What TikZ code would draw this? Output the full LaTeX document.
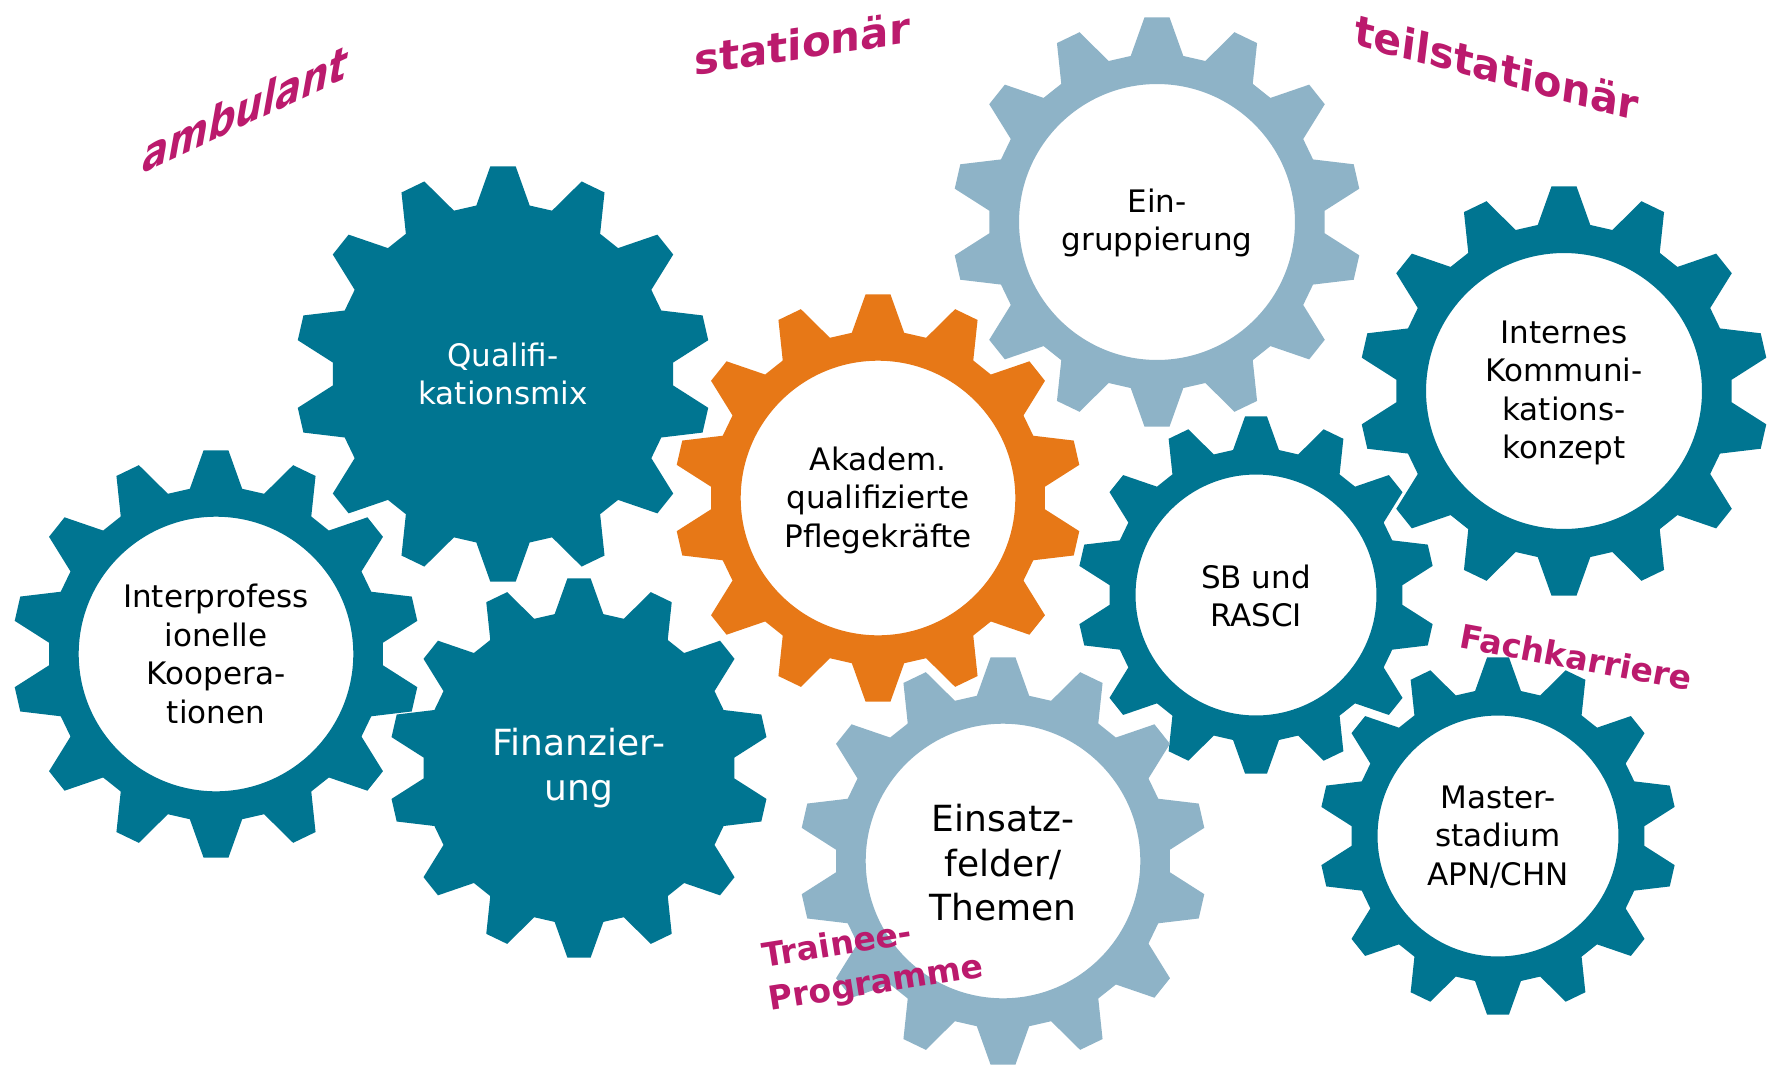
\documentclass[tikz,border=0pt]{standalone}
\usepackage{fontspec}
\setmainfont{DejaVu Sans}
\definecolor{gteal}{HTML}{007591}
\definecolor{glight}{HTML}{8EB3C7}
\definecolor{gorange}{HTML}{E77817}
\definecolor{gmag}{HTML}{BB1A6D}
\tikzset{
  gtext/.style={align=center, text=black, font=\fontsize{31}{38.5}\selectfont, inner sep=0pt},
  gwhite/.style={gtext, text=white},
  gbig/.style={align=center, font=\fontsize{36}{44.5}\selectfont, inner sep=0pt},
  glabel/.style={text=gmag, font=\bfseries\fontsize{42}{50}\selectfont, inner sep=0pt},
  gsmall/.style={text=gmag, font=\bfseries\fontsize{33}{44}\selectfont, inner sep=0pt, align=left},
}
\newcommand\ringgear[4]{%
  \fill[#4, even odd rule, shift={(#1,#2)}] (90-9:{0.82*#3})
    \foreach \i in {0,...,13}{
      -- ({90+\i*360/14-9}:{0.82*#3}) -- ({90+\i*360/14-3.5}:#3)
      -- ({90+\i*360/14+3.5}:#3) -- ({90+\i*360/14+9}:{0.82*#3})
    } -- cycle (0,0) circle[radius={0.673*#3pt}];
}
\newcommand\solidgear[4]{%
  \fill[#4, shift={(#1,#2)}] (90-9:{0.82*#3})
    \foreach \i in {0,...,13}{
      -- ({90+\i*360/14-9}:{0.82*#3}) -- ({90+\i*360/14-3.5}:#3)
      -- ({90+\i*360/14+3.5}:#3) -- ({90+\i*360/14+9}:{0.82*#3})
    } -- cycle;
}
\begin{document}
\begin{tikzpicture}[x=1pt, y=-1pt]
\fill[white] (0,0) rectangle (1777,1066);
\useasboundingbox (0,0) rectangle (1777,1066);
% gears
\solidgear{503}{374}{208}{gteal}
\ringgear{216}{654}{204}{gteal}
\solidgear{579}{768}{190}{gteal}
\ringgear{878}{498}{204}{gorange}
\ringgear{1157}{222}{205}{glight}
\ringgear{1564}{391}{205}{gteal}
\ringgear{1256}{595}{179}{gteal}
\ringgear{1003}{861}{204}{glight}
\ringgear{1498}{836}{179}{gteal}
% gear texts
\node[gwhite] (qual) at (503,374) {Qualifi-\\kationsmix};
\node[gtext] (inter) at (216,654) {Interprofess\\ionelle\\Koopera-\\tionen};
\node[gbig, text=white] (fin) at (579,768) {Finanzier-\\ung};
\node[gtext] (akad) at (878,500) {Akadem.\\qualifizierte\\Pflegekräfte};
\node[gtext] (eing) at (1157,223) {Ein-\\gruppierung};
\node[gtext] (intk) at (1564,393) {Internes\\Kommuni-\\kations-\\konzept};
\node[gtext] (sb) at (1256,596) {SB und\\RASCI};
\node[gbig, text=black] (eins) at (1003,863) {Einsatz-\\felder/\\Themen};
\node[gtext] (mast) at (1498,837) {Master-\\stadium\\APN/CHN};
% labels
\node[glabel, cm={0.906,0.423,0.21,1.18,(0,0)}] (amb) at (246,108) {ambulant};
\node[glabel, yslant=0.15] (sta) at (802,43) {stationär};
\node[glabel, cm={0.966,-0.259,0.122,0.993,(0,0)}] (teil) at (1497,67) {teilstationär};
\node[gsmall, rotate=-10.5] (fach) at (1576,657) {Fachkarriere};
\node[gsmall, rotate=9] (trainee) at (873,963) {Trainee-\\Programme};
\end{tikzpicture}
\end{document}
